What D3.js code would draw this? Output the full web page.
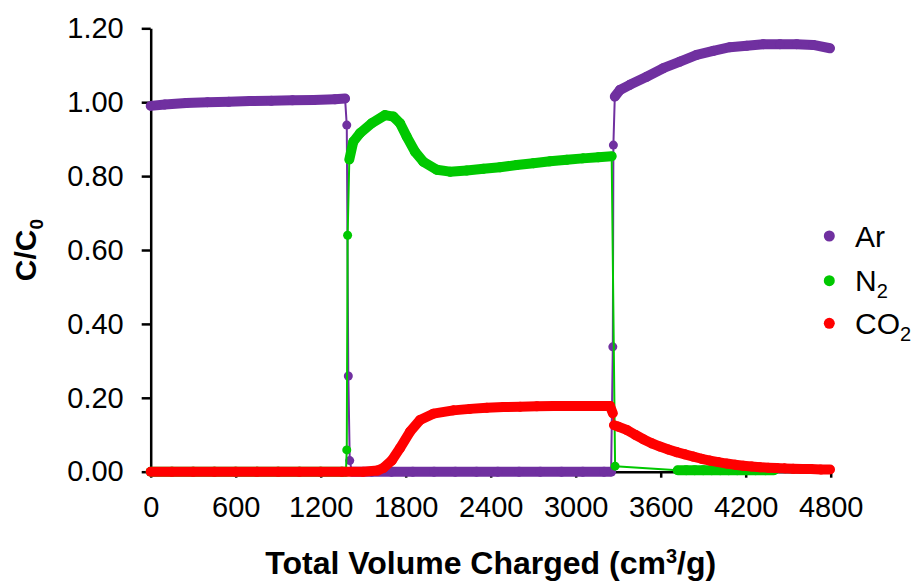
<!DOCTYPE html>
<html>
<head>
<meta charset="utf-8">
<script src="https://cdn.jsdelivr.net/npm/d3@7"></script>
<style>
  body { margin: 0; background: #fff; }
  svg text { font-family: "Liberation Sans", Arial, sans-serif; fill: #000; }
</style>
</head>
<body>
<svg id="chart" width="924" height="583"></svg>
<script>
// series values: [total volume (cm3/g), C/C0]
const arPoints = [
  [0, 0.990], [100, 0.994], [250, 0.998], [400, 1.000], [550, 1.001], [700, 1.003],
  [850, 1.004], [1000, 1.005], [1150, 1.006], [1300, 1.008], [1372, 1.010],
  [1384, 0.938], [1395, 0.259], [1405, 0.030], [1420, 0], [1560, 0], [1700, 0],
  [1850, 0], [2000, 0], [2150, 0], [2300, 0], [2450, 0], [2600, 0], [2750, 0],
  [2900, 0], [3050, 0], [3200, 0], [3250, 0], [3262, 0.338], [3266, 0.884],
  [3276, 1.015], [3312, 1.033], [3382, 1.047], [3501, 1.069], [3618, 1.092],
  [3736, 1.110], [3854, 1.128], [3971, 1.139], [4089, 1.149], [4207, 1.153],
  [4324, 1.157], [4442, 1.157], [4560, 1.157], [4677, 1.155], [4795, 1.146]
];
const n2Points = [
  [0, 0], [150, 0], [300, 0], [450, 0], [600, 0], [750, 0], [900, 0], [1050, 0],
  [1200, 0], [1350, 0], [1378, 0], [1384, 0.059], [1390, 0.640], [1402, 0.845],
  [1430, 0.893], [1477, 0.916], [1560, 0.943], [1654, 0.965], [1713, 0.961],
  [1760, 0.943], [1807, 0.907], [1866, 0.866], [1924, 0.839], [2019, 0.817],
  [2113, 0.812], [2231, 0.815], [2349, 0.820], [2466, 0.824], [2584, 0.830],
  [2701, 0.835], [2819, 0.840], [2937, 0.844], [3050, 0.848], [3160, 0.851],
  [3254, 0.854], [3278, 0.015], [3720, 0.004], [3780, 0.004], [3840, 0.004],
  [3900, 0.004], [3960, 0.004], [4020, 0.004], [4080, 0.004], [4140, 0.004],
  [4200, 0.004], [4270, 0.004], [4340, 0.004], [4400, 0.004]
];
const co2Points = [
  [0, 0], [150, 0], [300, 0], [450, 0], [600, 0], [750, 0], [900, 0], [1050, 0],
  [1200, 0], [1350, 0], [1500, 0], [1600, 0.003], [1642, 0.010], [1701, 0.030],
  [1760, 0.064], [1830, 0.108], [1901, 0.140], [1995, 0.157], [2136, 0.166],
  [2254, 0.170], [2372, 0.173], [2490, 0.175], [2607, 0.176], [2725, 0.177],
  [2842, 0.178], [2960, 0.178], [3100, 0.178], [3242, 0.178], [3262, 0.158],
  [3270, 0.126], [3300, 0.122], [3360, 0.113], [3420, 0.100], [3477, 0.088],
  [3536, 0.077], [3595, 0.068], [3654, 0.060], [3713, 0.053], [3771, 0.047],
  [3830, 0.041], [3889, 0.035], [3948, 0.030], [4007, 0.026], [4066, 0.022],
  [4125, 0.019], [4183, 0.016], [4242, 0.014], [4301, 0.012], [4360, 0.011],
  [4418, 0.010], [4477, 0.009], [4536, 0.008], [4600, 0.007], [4660, 0.007],
  [4730, 0.006], [4795, 0.006]
];

const xTicks = [0, 600, 1200, 1800, 2400, 3000, 3600, 4200, 4800];
const yTicks = [0, 0.2, 0.4, 0.6, 0.8, 1.0, 1.2];

const seriesNames = ["Ar", "N2", "CO2"];
const seriesColors = ["#7030a0", "#00c800", "#ff0000"];

const svg = d3.select("#chart");

const x = d3.scaleLinear().domain([0, 4800]).range([150.7, 830.7]);
const y = d3.scaleLinear().domain([0, 1.2]).range([471.7, 28.3]);

// axes
const xAxis = svg.append("g")
    .attr("transform", `translate(0,${y(0)})`)
    .call(d3.axisBottom(x).tickValues(xTicks).tickFormat(d3.format("d"))
        .tickSize(6).tickSizeOuter(0).tickPadding(19));
const yAxis = svg.append("g")
    .attr("transform", `translate(${x(0)},0)`)
    .call(d3.axisLeft(y).tickValues(yTicks).tickFormat(d3.format(".2f"))
        .tickSize(9).tickSizeOuter(0).tickPadding(18));

[xAxis, yAxis].forEach(a => {
    a.select(".domain").attr("stroke", "#000").attr("stroke-width", 2.5);
    a.selectAll(".tick line").attr("stroke", "#000").attr("stroke-width", 2.5);
    a.selectAll(".tick text").attr("font-size", 29).attr("font-family", null).attr("fill", "#000");
});

// series: dense markers in the original look like a thick ribbon,
// steep jumps show only the thin connector line
function drawSeries(pts, color) {
    const g = svg.append("g");
    for (let i = 1; i < pts.length; i++) {
        const x1 = x(pts[i - 1][0]), y1 = y(pts[i - 1][1]);
        const x2 = x(pts[i][0]), y2 = y(pts[i][1]);
        const dx = Math.abs(x2 - x1), dy = Math.abs(y2 - y1);
        const thin = (dy > 6 && dy > 5 * dx) || Math.hypot(dx, dy) > 45;
        g.append("line")
            .attr("x1", x1).attr("y1", y1).attr("x2", x2).attr("y2", y2)
            .attr("stroke", color)
            .attr("stroke-width", thin ? 2 : 10)
            .attr("stroke-linecap", "round");
    }
    g.selectAll("circle")
        .data(pts)
        .enter()
        .append("circle")
        .attr("cx", d => x(d[0]))
        .attr("cy", d => y(d[1]))
        .attr("r", 4.5)
        .attr("fill", color);
}

drawSeries(arPoints, seriesColors[0]);
drawSeries(n2Points, seriesColors[1]);
drawSeries(co2Points, seriesColors[2]);

// axis titles
const xTitle = svg.append("text")
    .attr("x", (x(0) + x(4800)) / 2)
    .attr("y", 574)
    .attr("text-anchor", "middle")
    .attr("font-size", 32)
    .attr("font-weight", "bold");
xTitle.append("tspan").text("Total Volume Charged (cm");
xTitle.append("tspan").attr("font-size", 20).attr("dy", -11).text("3");
xTitle.append("tspan").attr("dy", 11).text("/g)");

const yTitle = svg.append("text")
    .attr("transform", "translate(36,250) rotate(-90)")
    .attr("text-anchor", "middle")
    .attr("font-size", 30)
    .attr("font-weight", "bold");
yTitle.append("tspan").text("C/C");
yTitle.append("tspan").attr("font-size", 19).attr("dy", 7).text("0");

// legend
const legendY = [236, 280.7, 323.3];
const legend = svg.append("g");
seriesNames.forEach((name, i) => {
    legend.append("circle")
        .attr("cx", 829.3).attr("cy", legendY[i]).attr("r", 5.5)
        .attr("fill", seriesColors[i]);
    const t = legend.append("text")
        .attr("x", 855).attr("y", legendY[i] + 10.5)
        .attr("font-size", 30);
    if (name === "Ar") {
        t.text("Ar");
    } else {
        t.append("tspan").text(name.slice(0, -1));
        t.append("tspan").attr("font-size", 20).attr("dy", 7).text("2");
    }
});
</script>
</body>
</html>
